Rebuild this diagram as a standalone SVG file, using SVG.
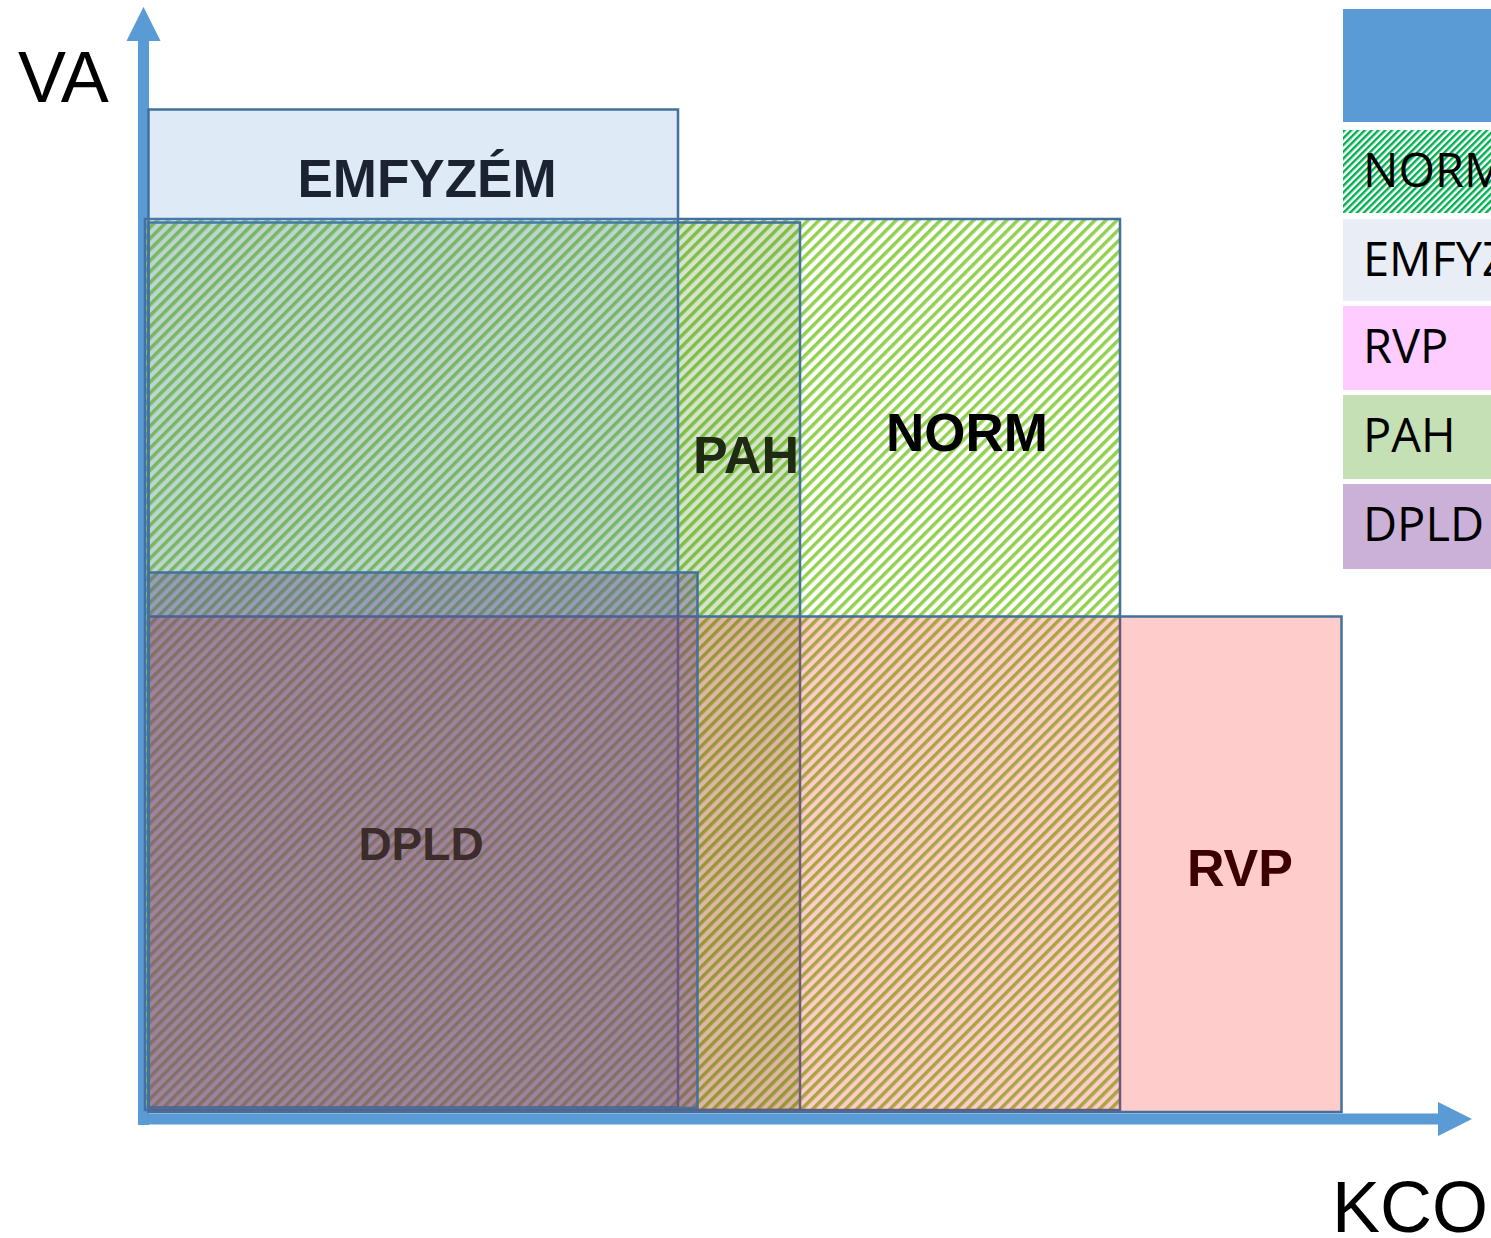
<svg xmlns="http://www.w3.org/2000/svg" width="1491" height="1238" viewBox="0 0 1491 1238">
  <defs>
    <!-- wide upward diagonal hatch used for the NORM zone -->
    <pattern id="hatchNorm" width="7.8" height="7.8" patternUnits="userSpaceOnUse" patternTransform="rotate(45)">
      <rect width="3.5" height="7.8" fill="#92D050"/>
    </pattern>
    <!-- finer hatch for the legend swatch -->
    <pattern id="hatchLegend" width="4.8" height="4.8" patternUnits="userSpaceOnUse" patternTransform="rotate(45)">
      <rect width="4.8" height="4.8" fill="#ffffff"/>
      <rect width="2.4" height="4.8" fill="#00B050"/>
    </pattern>
    <marker id="axisHead" viewBox="0 0 10 10" refX="0" refY="5" markerWidth="3.1" markerHeight="3.1" orient="auto" markerUnits="strokeWidth">
      <path d="M0,0 L10,5 L0,10 Z" fill="#5B9BD5"/>
    </marker>
  </defs>
  <style>
    .zone { stroke: #41719C; stroke-width: 2.5; }
    .lbl { font-family: "Liberation Sans", Arial, sans-serif; font-weight: bold; text-anchor: middle; }
    .axisTitle { font-family: "Liberation Sans", Arial, sans-serif; font-size: 72px; fill: #000; }
    .legTxt { font-family: "Open Sans", "Noto Sans", sans-serif; font-size: 47px; fill: #000; }
    .axis { stroke: #5B9BD5; stroke-width: 11; fill: none; }
  </style>

  <rect width="1491" height="1238" fill="#ffffff"/>

  <!-- axes -->
  <g id="axes">
    <line class="axis" x1="143.5" y1="1125" x2="143.5" y2="41" marker-end="url(#axisHead)"/>
    <line class="axis" x1="138" y1="1119" x2="1438" y2="1119" marker-end="url(#axisHead)"/>
    <text class="axisTitle" x="18" y="102">VA</text>
    <text class="axisTitle" x="1332" y="1232">KCO</text>
  </g>

  <!-- zones, drawn back to front -->
  <g id="norm">
    <rect class="zone" x="145" y="219" width="975" height="891" fill="url(#hatchNorm)"/>
  </g>
  <g id="pah">
    <rect class="zone" x="148.5" y="222.5" width="651.5" height="887.5" fill="rgb(50,120,15)" fill-opacity="0.2"/>
  </g>
  <g id="emfyzem">
    <rect class="zone" x="148.5" y="109.5" width="529.5" height="998" fill="#5B9BD5" fill-opacity="0.2"/>
  </g>
  <g id="rvp">
    <rect class="zone" x="148.5" y="616.5" width="1193" height="495.5" fill="#FF0000" fill-opacity="0.2"/>
  </g>
  <g id="dpld">
    <rect class="zone" x="148.5" y="572.5" width="549" height="535.5" fill="rgb(97,71,143)" fill-opacity="0.4"/>
  </g>

  <!-- zone labels -->
  <g id="labels">
    <text class="lbl" x="427" y="197" font-size="53" fill="#1b2332">EMFYZÉM</text>
    <text class="lbl" x="746" y="473" font-size="52" fill="#1e2a12">PAH</text>
    <text class="lbl" x="967" y="451" font-size="53" fill="#000000">NORM</text>
    <text class="lbl" x="421" y="860" font-size="46" fill="#3b2b2b">DPLD</text>
    <text class="lbl" x="1240" y="886" font-size="52" fill="#3d0000">RVP</text>
  </g>

  <!-- legend -->
  <g id="legend">
    <rect x="1343" y="9" width="148" height="113" fill="#5B9BD5"/>
    <rect x="1343" y="130" width="148" height="83" fill="url(#hatchLegend)"/>
    <text class="legTxt" x="1363" y="187">NORM</text>
    <rect x="1343" y="219" width="148" height="82" fill="#E9EDF5"/>
    <text class="legTxt" x="1363" y="276">EMFYZÉM</text>
    <rect x="1343" y="306" width="148" height="84" fill="#FFCCFF"/>
    <text class="legTxt" x="1363" y="363">RVP</text>
    <rect x="1343" y="395" width="148" height="84" fill="#C5E0B4"/>
    <text class="legTxt" x="1363" y="452">PAH</text>
    <rect x="1343" y="484" width="148" height="85" fill="#CBB0D8"/>
    <text class="legTxt" x="1363" y="541">DPLD</text>
  </g>
</svg>
